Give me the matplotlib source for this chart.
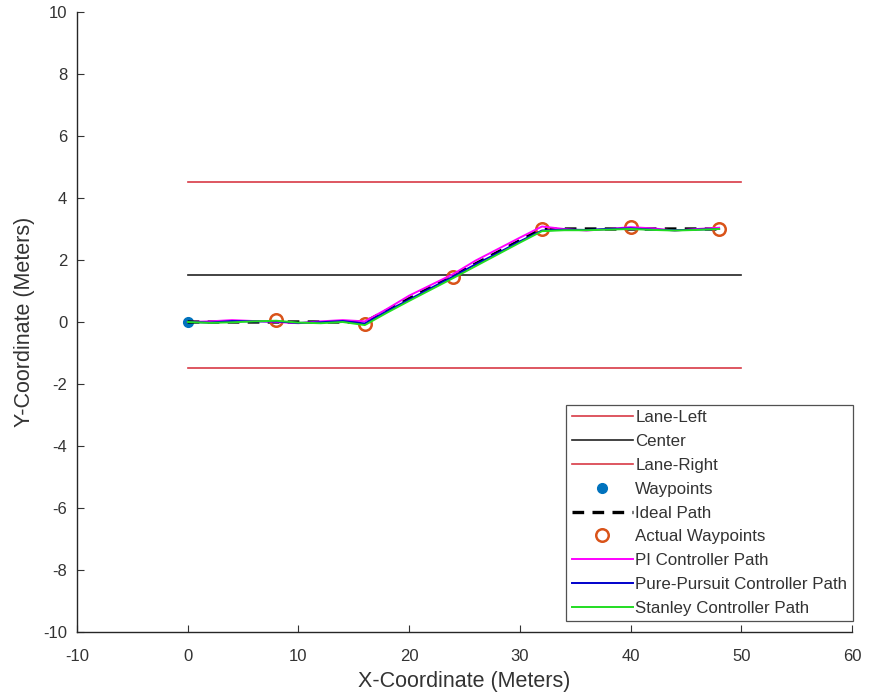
import matplotlib
matplotlib.use("Agg")
import matplotlib.pyplot as plt

plt.rcParams['font.family'] = ['Liberation Sans', 'DejaVu Sans']
plt.rcParams['axes.unicode_minus'] = False

# Lane geometry
lane_x = [0, 50]
lane_left_y = [4.5, 4.5]
center_y = [1.5, 1.5]
lane_right_y = [-1.5, -1.5]

# Start waypoint
waypoint_x = [0]
waypoint_y = [0]

# Ideal lane-change path
ideal_x = [0, 16, 32, 48]
ideal_y = [0, 0, 3, 3]

# Waypoints actually reached
actual_x = [8, 16, 24, 32, 40, 48]
actual_y = [0.05, -0.05, 1.45, 3.0, 3.05, 3.0]

# Controller trajectories
path_x = [0, 2, 4, 6, 8, 10, 12, 14, 16, 18, 20, 22, 24, 26, 28, 30, 32,
          34, 36, 38, 40, 42, 44, 46, 48]
pi_y = [0, 0.02, 0.06, 0.03, 0.0, -0.04, 0.02, 0.06, 0.02, 0.42, 0.85, 1.2,
        1.55, 1.98, 2.35, 2.72, 3.08, 3.0, 2.95, 3.0, 3.06, 3.02, 2.95, 3.0, 3.04]
pp_y = [0, -0.02, 0.03, 0.02, 0.02, -0.03, -0.01, 0.03, -0.05, 0.35, 0.72, 1.1,
        1.47, 1.86, 2.22, 2.6, 2.95, 2.98, 2.97, 3.0, 3.02, 2.98, 2.96, 2.98, 3.0]
stanley_y = [0, -0.03, -0.01, 0.02, 0.04, -0.02, -0.04, 0.0, -0.1, 0.3, 0.68,
             1.05, 1.42, 1.8, 2.18, 2.56, 2.93, 2.96, 2.96, 2.98, 3.0, 2.97,
             2.95, 2.97, 3.0]

x_ticks = [-10, 0, 10, 20, 30, 40, 50, 60]
y_ticks = [-10, -8, -6, -4, -2, 0, 2, 4, 6, 8, 10]

text_color = '#333333'

fig = plt.figure(figsize=(8.69, 6.98), dpi=100)
ax = fig.add_axes([0.0886, 0.0946, 0.8918, 0.8882])

ax.plot(lane_x, lane_left_y, color='#D83A45', lw=1.2, label='Lane-Left')
ax.plot(lane_x, center_y, color='#222222', lw=1.2, label='Center')
ax.plot(lane_x, lane_right_y, color='#D83A45', lw=1.2, label='Lane-Right')
ax.plot(waypoint_x, waypoint_y, 'o', color='#0072BD', ms=7, ls='none',
        label='Waypoints')
ax.plot(ideal_x, ideal_y, '--', color='black', lw=2.4, dashes=(3.5, 2.5),
        label='Ideal Path')
ax.plot(actual_x, actual_y, 'o', mfc='none', mec='#D95319', mew=1.8, ms=9,
        ls='none', label='Actual Waypoints')
ax.plot(path_x, pi_y, color='#FF00FF', lw=1.4, label='PI Controller Path')
ax.plot(path_x, pp_y, color='#0000CC', lw=1.4,
        label='Pure-Pursuit Controller Path')
ax.plot(path_x, stanley_y, color='#22DD22', lw=1.4,
        label='Stanley Controller Path')

ax.set_xlim(-10, 60)
ax.set_ylim(-10, 10)
ax.set_xticks(x_ticks)
ax.set_yticks(y_ticks)
ax.spines['top'].set_visible(False)
ax.spines['right'].set_visible(False)
for s in ('left', 'bottom'):
    ax.spines[s].set_color('#262626')
    ax.spines[s].set_linewidth(1.0)
ax.tick_params(direction='in', length=5, width=0.8, colors=text_color,
               labelsize=12)
ax.tick_params(axis='x', pad=12)
ax.tick_params(axis='y', pad=7)
ax.set_xlabel('X-Coordinate (Meters)', fontsize=15.5, color=text_color,
              labelpad=5)
ax.set_ylabel('Y-Coordinate (Meters)', fontsize=15.5, color=text_color,
              labelpad=6)

leg = ax.legend(loc='lower right', bbox_to_anchor=(1.001, 0.017),
                borderaxespad=0, fontsize=12.2, frameon=True, fancybox=False,
                edgecolor='#262626', handlelength=3.6, handletextpad=0.15,
                labelspacing=0.52, borderpad=0.33)
leg.get_frame().set_linewidth(0.9)
for t in leg.get_texts():
    t.set_color(text_color)

fig.savefig('out.png', dpi=100)
